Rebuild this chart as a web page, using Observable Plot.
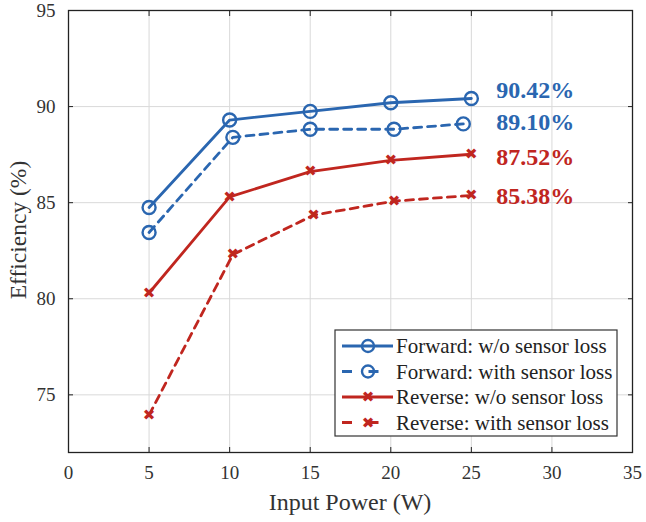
<!DOCTYPE html>
<html>
<head>
<meta charset="utf-8">
<script src="https://cdn.jsdelivr.net/npm/d3@7"></script>
<script src="https://cdn.jsdelivr.net/npm/@observablehq/plot@0.6"></script>
<style>
  html, body { margin: 0; padding: 0; background: #fff; }
  #chart { width: 646px; height: 522px; }
</style>
</head>
<body>
<div id="chart"></div>
<script>
const seriesNames = [
  "Forward: w/o sensor loss",
  "Forward: with sensor loss",
  "Reverse: w/o sensor loss",
  "Reverse: with sensor loss"
];
const fwdNoLossX = [5, 10, 15, 20, 25];
const fwdNoLossY = [84.75, 89.3, 89.75, 90.2, 90.42];
const fwdLossX = [5, 10.2, 15, 20.2, 24.5];
const fwdLossY = [83.45, 88.4, 88.82, 88.82, 89.10];
const revNoLossX = [5, 10, 15, 20, 25];
const revNoLossY = [80.3, 85.3, 86.62, 87.2, 87.52];
const revLossX = [5, 10.2, 15.2, 20.2, 25];
const revLossY = [73.95, 82.3, 84.35, 85.08, 85.38];
const endLabels = ["90.42%", "89.10%", "87.52%", "85.38%"];
const xTicks = [0, 5, 10, 15, 20, 25, 30, 35];
const yTicks = [75, 80, 85, 90, 95];

const BLUE = "#2a66b0";
const RED = "#c0261f";
const colors = [BLUE, BLUE, RED, RED];
const dashes = [null, "8,6", null, "8,6"];
const symbols = ["circle", "circle", "cross", "cross"];
const labelDy = [-8, -2, 3, 1];
const SERIF = "Liberation Serif";

const xs = [fwdNoLossX, fwdLossX, revNoLossX, revLossX];
const ys = [fwdNoLossY, fwdLossY, revNoLossY, revLossY];
const series = seriesNames.map((name, i) =>
  xs[i].map((x, j) => ({series: name, idx: i, x, y: ys[i][j]}))
);

const marks = [
  Plot.gridX(xTicks, {stroke: "#d9d9d9", strokeOpacity: 1, strokeWidth: 1}),
  Plot.gridY(yTicks, {stroke: "#d9d9d9", strokeOpacity: 1, strokeWidth: 1}),
  Plot.axisX(xTicks, {tickSize: -5, tickPadding: 18, fontSize: 19, fontFamily: SERIF, fill: "#333", stroke: "#222", label: null}),
  Plot.axisY(yTicks, {tickSize: -5, tickPadding: 18, fontSize: 19, fontFamily: SERIF, fill: "#333", stroke: "#222", label: null}),
  Plot.axisY(yTicks, {anchor: "right", tickSize: -5, text: null, stroke: "#222", label: null}),
  Plot.axisX(xTicks, {anchor: "top", tickSize: -5, text: null, stroke: "#222", label: null}),
  Plot.frame({stroke: "#222", strokeWidth: 1.3})
];

series.forEach((data, i) => {
  marks.push(Plot.line(data, {x: "x", y: "y", stroke: colors[i], strokeWidth: 2.8,
    strokeDasharray: dashes[i] || undefined}));
  if (symbols[i] === "circle") {
    marks.push(Plot.dot(data, {x: "x", y: "y", r: 6.5, stroke: colors[i], strokeWidth: 2.4, fill: "none"}));
  } else {
    marks.push(Plot.text(data, {x: "x", y: "y", text: () => "✖", fill: colors[i], fontSize: 15, fontFamily: "DejaVu Sans"}));
  }
  const last = data[data.length - 1];
  marks.push(Plot.text([last], {x: () => 26.55, y: "y", text: () => endLabels[i], dy: labelDy[i],
    textAnchor: "start", fill: colors[i], fontSize: 24, fontWeight: "bold", fontFamily: SERIF}));
});

const chart = Plot.plot({
  width: 646,
  height: 522,
  marginLeft: 68,
  marginRight: 14,
  marginTop: 10,
  marginBottom: 70,
  style: {fontFamily: SERIF, background: "#fff", overflow: "visible"},
  x: {domain: [0, 35]},
  y: {domain: [72, 95]},
  marks
});

const svg = d3.select(chart);
// axis titles
svg.append("text").attr("x", 350).attr("y", 510).attr("text-anchor", "middle")
  .attr("font-family", SERIF).attr("font-size", 24).attr("fill", "#333")
  .text("Input Power (W)");
svg.append("text").attr("transform", "translate(26,230) rotate(-90)").attr("text-anchor", "middle")
  .attr("font-family", SERIF).attr("font-size", 23.5).attr("fill", "#333")
  .text("Efficiency (%)");

// legend
const lg = svg.append("g").attr("transform", "translate(335,330)");
lg.append("rect").attr("width", 282).attr("height", 106).attr("fill", "#fff").attr("stroke", "#333").attr("stroke-width", 1.2);
seriesNames.forEach((name, i) => {
  const cy = 16 + i * 25.5;
  const g = lg.append("g").attr("transform", `translate(0,${cy})`);
  g.append("line").attr("x1", 7).attr("x2", 58).attr("y1", 0).attr("y2", 0)
    .attr("stroke", colors[i]).attr("stroke-width", 2.8)
    .attr("stroke-dasharray", dashes[i] ? "10,16.5" : null);
  if (symbols[i] === "circle") {
    g.append("circle").attr("cx", 33).attr("cy", 0).attr("r", 6).attr("fill", "none")
      .attr("stroke", colors[i]).attr("stroke-width", 2.4);
  } else {
    g.append("text").attr("x", 33).attr("y", 0).attr("dy", "0.35em").attr("text-anchor", "middle")
      .attr("font-family", "DejaVu Sans").attr("font-size", 15).attr("fill", colors[i]).text("✖");
  }
  g.append("text").attr("x", 61).attr("y", 0).attr("dy", "0.34em").attr("text-anchor", "start")
    .attr("font-family", SERIF).attr("font-size", 21).attr("fill", "#222").text(name);
});

document.getElementById("chart").appendChild(chart);
</script>
</body>
</html>
